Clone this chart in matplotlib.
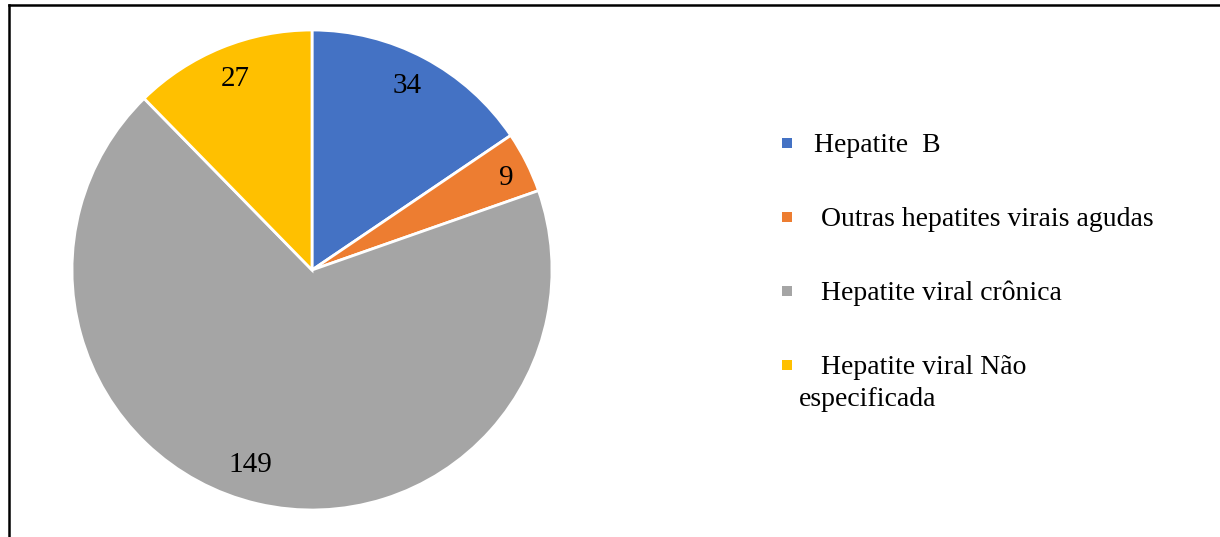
import matplotlib
matplotlib.use("Agg")
import matplotlib.pyplot as plt
import numpy as np
from matplotlib.lines import Line2D
from matplotlib.patches import Rectangle

categories = ["Hepatite  B", "Outras hepatites virais agudas",
              "Hepatite viral crônica", "Hepatite viral Não\nespecificada"]
values = [34, 9, 149, 27]
colors = ["#4472C4", "#ED7D31", "#A5A5A5", "#FFC000"]

# per-slice label placement (fraction of radius, angle nudge in degrees)
LABEL_DIST = [0.873, 0.90, 0.84, 0.87]
LABEL_NUDGE = [1.0, -0.6, -4.7, -0.5]

W, H, DPI = 1220, 537, 100
plt.rcParams["font.family"] = ["Liberation Serif", "DejaVu Serif"]

fig = plt.figure(figsize=(W / DPI, H / DPI), dpi=DPI)

cx, cy, r = 312, 270, 240
ax = fig.add_axes([(cx - r) / W, 1 - (cy + r) / H, 2 * r / W, 2 * r / H])
wedges, _ = ax.pie(values, colors=colors, startangle=90, counterclock=False,
                   radius=1.0, wedgeprops=dict(edgecolor="white", linewidth=2.0))
ax.set_xlim(-1, 1)
ax.set_ylim(-1, 1)
ax.set_aspect("equal")
ax.axis("off")

drop = 3 / r  # small downward shift so digits sit like the original
for w, v, d, nudge in zip(wedges, values, LABEL_DIST, LABEL_NUDGE):
    mid = np.deg2rad((w.theta1 + w.theta2) / 2 + nudge)
    ax.text(d * np.cos(mid), d * np.sin(mid) - drop, str(v), ha="center", va="center",
            fontsize=21, color="black")

# legend drawn by hand to match the spacing of the original
leg_x = 787
leg_y = [143, 217, 291, 365]
text_x = [814, 821, 821, 821]
for lab, c, y, tx in zip(categories, colors, leg_y, text_x):
    fig.add_artist(Rectangle(((leg_x - 5) / W, 1 - (y + 5) / H), 10 / W, 10 / H,
                             facecolor=c, edgecolor="none", transform=fig.transFigure))
    first, *rest = lab.split("\n")
    fig.text(tx / W, 1 - (y + 2) / H, first, ha="left", va="center", fontsize=20)
    for k, line in enumerate(rest):
        fig.text(799 / W, 1 - (y + 2 + 32 * (k + 1)) / H, line, ha="left", va="center", fontsize=20)

# frame lines (top and left) of the cropped figure box
fig.add_artist(Line2D([8.5 / W, 1], [1 - 4.5 / H, 1 - 4.5 / H], color="black",
                      linewidth=1.8, transform=fig.transFigure))
fig.add_artist(Line2D([8.5 / W, 8.5 / W], [0, 1 - 4.5 / H], color="black",
                      linewidth=1.8, transform=fig.transFigure))

fig.savefig("out.png", dpi=DPI, facecolor="white")
